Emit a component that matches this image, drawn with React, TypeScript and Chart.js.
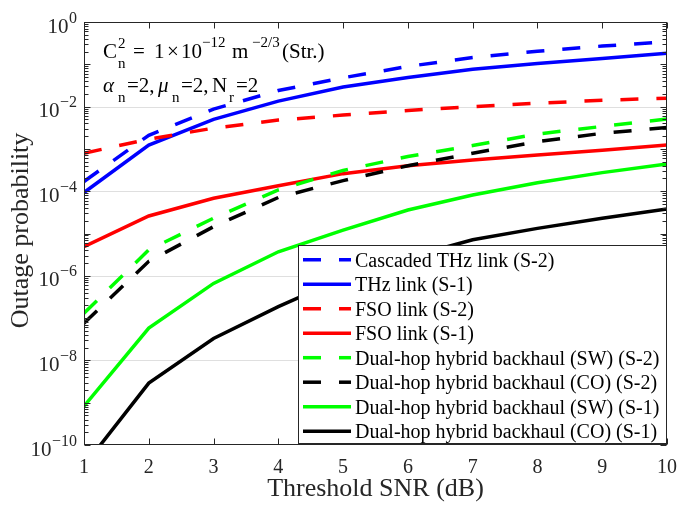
import React, { useEffect, useRef } from "react";
import { Chart, registerables } from "chart.js";

Chart.register(...registerables);

// ---- Data ----
const snr = [1, 2, 3, 4, 5, 6, 7, 8, 9, 10];

const cascadedThzS2 = [1.7e-4, 2.1e-3, 8.7e-3, 2.4e-2, 4.8e-2, 8.9e-2, 0.145, 0.204, 0.27, 0.34];
const thzS1 = [9.3e-5, 1.23e-3, 5.0e-3, 1.35e-2, 2.9e-2, 4.9e-2, 7.6e-2, 0.105, 0.138, 0.182];
const fsoS2 = [7.9e-4, 1.7e-3, 3.1e-3, 4.8e-3, 6.3e-3, 8.1e-3, 1.0e-2, 1.2e-2, 1.41e-2, 1.58e-2];
const fsoS1 = [4.9e-6, 2.6e-5, 6.8e-5, 1.35e-4, 2.6e-4, 4.0e-4, 5.5e-4, 7.2e-4, 9.3e-4, 1.23e-3];
const swS2 = [1.3e-7, 4.1e-6, 2.3e-5, 1.07e-4, 3.1e-4, 6.6e-4, 1.2e-3, 2.24e-3, 3.4e-3, 5.1e-3];
const coS2 = [7.6e-8, 2.2e-6, 1.45e-5, 7.1e-5, 1.78e-4, 4.0e-4, 7.9e-4, 1.48e-3, 2.34e-3, 3.2e-3];
const swS1 = [8.3e-10, 5.8e-8, 6.6e-7, 3.7e-6, 1.2e-5, 3.6e-5, 8.1e-5, 1.58e-4, 2.75e-4, 4.4e-4];
const coS1 = [3.2e-11, 2.9e-9, 3.3e-8, 1.86e-7, 8.9e-7, 2.7e-6, 7.1e-6, 1.32e-5, 2.3e-5, 3.8e-5];

const seriesLabels = [
  "Cascaded THz link (S-2)",
  "THz link (S-1)",
  "FSO link (S-2)",
  "FSO link (S-1)",
  "Dual-hop hybrid backhaul (SW) (S-2)",
  "Dual-hop hybrid backhaul (CO) (S-2)",
  "Dual-hop hybrid backhaul (SW) (S-1)",
  "Dual-hop hybrid backhaul (CO) (S-1)",
];
const seriesValues = [cascadedThzS2, thzS1, fsoS2, fsoS1, swS2, coS2, swS1, coS1];
const seriesColors = ["#0000ff", "#0000ff", "#ff0000", "#ff0000", "#00ff00", "#000000", "#00ff00", "#000000"];
const seriesDashed = [true, false, true, false, true, true, false, false];

const xTickValues = [1, 2, 3, 4, 5, 6, 7, 8, 9, 10];
const yLabelExponents = [0, -2, -4, -6, -8, -10];
const yGridExponents = [-2, -4, -6, -8];

const xTitle = "Threshold SNR (dB)";
const yTitle = "Outage probability";

const FONT = '"Liberation Serif", "Times New Roman", serif';
const AXIS = "#262626";
const MINUS = "\u2212";

export default function App() {
  const ref = useRef<HTMLCanvasElement>(null);

  useEffect(() => {
    const canvas = ref.current!;
    const dash = [18, 18];

    const datasets = seriesValues.map((vals, i) => ({
      label: seriesLabels[i],
      data: snr.map((x, j) => ({ x, y: vals[j] })),
      borderColor: seriesColors[i],
      backgroundColor: seriesColors[i],
      borderWidth: 3.5,
      borderDash: seriesDashed[i] ? dash : [],
      pointRadius: 0,
      tension: 0,
      fill: false,
      clip: 0,
      order: seriesValues.length - i,
    }));

    const font = (size: number, italic = false) => `${italic ? "italic " : ""}${size}px ${FONT}`;

    const plugin = {
      id: "matlabStyle",
      beforeDatasetsDraw(chart: any) {
        const { ctx, chartArea: a, scales } = chart;
        const y = scales.y;
        ctx.save();
        ctx.strokeStyle = "rgba(38,38,38,0.15)";
        ctx.lineWidth = 1;
        for (const e of yGridExponents) {
          const py = Math.round(y.getPixelForValue(Math.pow(10, e))) + 0.5;
          ctx.beginPath();
          ctx.moveTo(a.left, py);
          ctx.lineTo(a.right, py);
          ctx.stroke();
        }
        ctx.restore();
      },
      afterDatasetsDraw(chart: any) {
        const { ctx, chartArea: a, scales } = chart;
        const xs = scales.x;
        const ys = scales.y;
        ctx.save();

        // Box
        ctx.strokeStyle = AXIS;
        ctx.lineWidth = 1;
        const L = Math.round(a.left) + 0.5;
        const R = Math.round(a.right) - 0.5;
        const T = Math.round(a.top) + 0.5;
        const B = Math.round(a.bottom) - 0.5;
        ctx.strokeRect(L, T, R - L, B - T);

        // X ticks (inside, top and bottom)
        ctx.beginPath();
        for (const v of xTickValues) {
          const px = Math.round(xs.getPixelForValue(v)) + 0.5;
          ctx.moveTo(px, B);
          ctx.lineTo(px, B - 6);
          ctx.moveTo(px, T);
          ctx.lineTo(px, T + 6);
        }
        // Y ticks (major per decade + minor)
        for (let d = -10; d <= 0; d++) {
          const py = Math.round(ys.getPixelForValue(Math.pow(10, d))) + 0.5;
          ctx.moveTo(L, py);
          ctx.lineTo(L + 6, py);
          ctx.moveTo(R, py);
          ctx.lineTo(R - 6, py);
          if (d < 0) {
            for (let m = 2; m <= 9; m++) {
              const pm = Math.round(ys.getPixelForValue(m * Math.pow(10, d))) + 0.5;
              ctx.moveTo(L, pm);
              ctx.lineTo(L + 4, pm);
              ctx.moveTo(R, pm);
              ctx.lineTo(R - 4, pm);
            }
          }
        }
        ctx.stroke();

        // X tick labels
        ctx.fillStyle = AXIS;
        ctx.textBaseline = "alphabetic";
        ctx.textAlign = "center";
        ctx.font = font(20);
        for (const v of xTickValues) {
          ctx.fillText(String(v), xs.getPixelForValue(v), a.bottom + 28);
        }

        // Y tick labels 10^e
        const rightEdge = a.left - 7;
        for (const e of yLabelExponents) {
          const gy = ys.getPixelForValue(Math.pow(10, e));
          const es = e < 0 ? MINUS + String(-e) : String(e);
          ctx.font = font(16);
          const ew = ctx.measureText(es).width;
          ctx.textAlign = "left";
          ctx.fillText(es, rightEdge - ew, gy + 0.5);
          ctx.font = font(21);
          ctx.textAlign = "right";
          ctx.fillText("10", rightEdge - ew - 0.5, gy + 10.5);
        }

        // Axis titles
        ctx.textAlign = "center";
        ctx.font = font(26);
        ctx.fillText(xTitle, (a.left + a.right) / 2, a.bottom + 51);
        ctx.save();
        ctx.translate(28, (a.top + a.bottom) / 2 - 3);
        ctx.rotate(-Math.PI / 2);
        ctx.fillText(yTitle, 0, 0);
        ctx.restore();

        // Annotation text
        ctx.fillStyle = "#000";
        ctx.textAlign = "left";
        const t = (s: string, x: number, y: number, size: number, italic = false) => {
          ctx.font = font(size, italic);
          ctx.fillText(s, x, y);
        };
        const b1 = 58;
        t("C", 103, b1, 21);
        t("2", 118, b1 - 10, 15);
        t("n", 118, b1 + 10, 15);
        t("=", 133, b1, 21);
        t("1", 154, b1, 21);
        t("\u00d7", 167, b1, 21);
        t("10", 181, b1, 21);
        t(MINUS + "12", 202, b1 - 11, 15);
        t("m", 232, b1, 21);
        t(MINUS + "2/3", 252, b1 - 11, 15);
        t("(Str.)", 282, b1, 21);

        const b2 = 92;
        t("\u03b1", 103, b2, 21, true);
        t("n", 118, b2 + 10, 15);
        t("=2,", 127, b2, 21);
        t("\u03bc", 158, b2, 21, true);
        t("n", 172, b2 + 10, 15);
        t("=2,", 181, b2, 21);
        t("N", 212, b2, 21);
        t("r", 229, b2 + 10, 15);
        t("=2", 236, b2, 21);

        // Legend
        const lx = 298.5, ly = 245.5, lw = 368, lh = 198;
        ctx.fillStyle = "#ffffff";
        ctx.fillRect(lx, ly, lw, lh);
        ctx.strokeStyle = AXIS;
        ctx.lineWidth = 1;
        ctx.strokeRect(lx, ly, lw, lh);
        ctx.font = font(20);
        for (let i = 0; i < seriesLabels.length; i++) {
          const base = 266.7 + i * 24.5;
          const lyLine = base - 7;
          ctx.strokeStyle = seriesColors[i];
          ctx.lineWidth = 3.5;
          ctx.setLineDash(seriesDashed[i] ? dash : []);
          ctx.beginPath();
          ctx.moveTo(303, lyLine);
          ctx.lineTo(351, lyLine);
          ctx.stroke();
          ctx.setLineDash([]);
          ctx.fillStyle = "#000";
          ctx.fillText(seriesLabels[i], 355, base);
        }

        ctx.restore();
      },
    };

    const chart = new Chart(canvas, {
      type: "line",
      data: { datasets: datasets as any },
      options: {
        animation: false,
        responsive: false,
        devicePixelRatio: 1,
        events: [],
        layout: { padding: { left: 84, top: 22, right: 24, bottom: 60 } },
        plugins: { legend: { display: false }, tooltip: { enabled: false } },
        scales: {
          x: { type: "linear", min: 1, max: 10, display: false },
          y: { type: "logarithmic", min: 1e-10, max: 1, display: false },
        },
      } as any,
      plugins: [plugin as any],
    });

    return () => chart.destroy();
  }, []);

  return (
    <div style={{ position: "fixed", left: 0, top: 0, width: 691, height: 505, background: "#fff" }}>
      <canvas ref={ref} width={691} height={505} style={{ display: "block", width: 691, height: 505 }} />
    </div>
  );
}
